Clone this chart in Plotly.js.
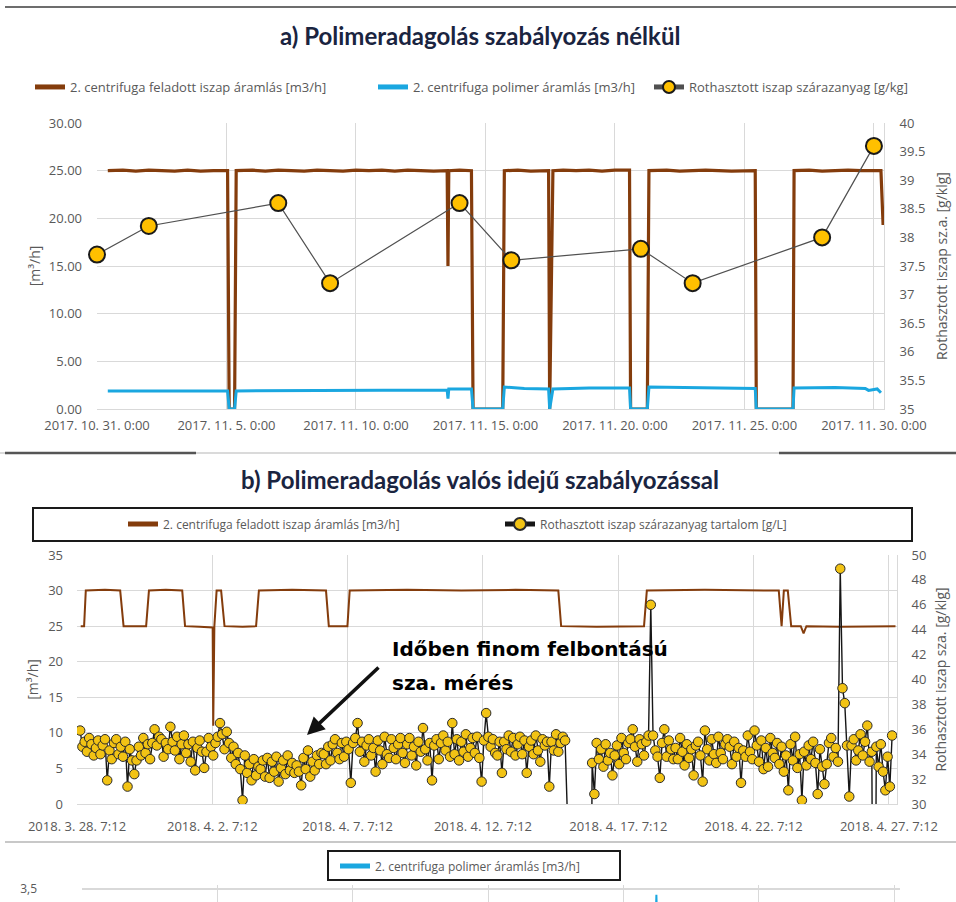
<!DOCTYPE html>
<html><head><meta charset="utf-8">
<script src="https://cdn.plot.ly/plotly-3.0.1.min.js"></script>
<style>html,body{margin:0;padding:0;background:#fff}#chart{width:956px;height:902px}</style>
</head><body><div id="chart"></div>
<script>
// ---------- texts ----------
const titleA = 'a) Polimeradagolás szabályozás nélkül';
const titleB = 'b) Polimeradagolás valós idejű szabályozással';
const nameFeed = '2. centrifuga feladott iszap áramlás [m3/h]';
const namePoly = '2. centrifuga polimer áramlás [m3/h]';
const nameSzaA = 'Rothasztott iszap szárazanyag [g/kg]';
const nameSzaB = 'Rothasztott iszap szárazanyag tartalom [g/L]';
const yTitleLeft = '[m³/h]';
const yTitleRightA = 'Rothasztott iszap sz.a. [g/klg]';
const yTitleRightB = 'Rothasztott iszap sza. [g/klg]';
const noteLine1 = 'Időben finom felbontású';
const noteLine2 = 'sza. mérés';

// ---------- panel a ----------
const tickA_vals = ['2017-10-31','2017-11-05','2017-11-10','2017-11-15','2017-11-20','2017-11-25','2017-11-30'];
const tickA_text = ['2017. 10. 31. 0:00','2017. 11. 5. 0:00','2017. 11. 10. 0:00','2017. 11. 15. 0:00','2017. 11. 20. 0:00','2017. 11. 25. 0:00','2017. 11. 30. 0:00'];

const feedA_t = ['2017-10-31 10:00','2017-11-01 00:00','2017-11-01 12:00','2017-11-02 00:00','2017-11-02 12:00','2017-11-03 00:00','2017-11-03 12:00','2017-11-04 00:00','2017-11-04 12:00','2017-11-05 01:00',
 '2017-11-05 02:30','2017-11-05 07:30','2017-11-05 09:00','2017-11-06 00:00','2017-11-06 12:00','2017-11-07 00:00','2017-11-07 12:00','2017-11-08 00:00','2017-11-08 12:00','2017-11-09 00:00',
 '2017-11-09 12:00','2017-11-10 00:00','2017-11-10 12:00','2017-11-11 00:00','2017-11-11 12:00','2017-11-12 00:00','2017-11-12 12:00','2017-11-13 00:00','2017-11-13 12:30','2017-11-13 13:15',
 '2017-11-13 14:00','2017-11-14 00:00','2017-11-14 11:00','2017-11-14 12:30','2017-11-15 16:00','2017-11-15 17:30','2017-11-16 06:00','2017-11-16 18:00','2017-11-17 10:30','2017-11-17 11:30',
 '2017-11-17 14:30','2017-11-18 00:00','2017-11-18 12:00','2017-11-19 00:00','2017-11-19 12:00','2017-11-20 00:00','2017-11-20 13:30','2017-11-20 14:30','2017-11-21 06:00','2017-11-21 07:30',
 '2017-11-22 00:00','2017-11-22 12:00','2017-11-23 00:00','2017-11-23 12:00','2017-11-24 00:00','2017-11-24 12:00','2017-11-25 10:00','2017-11-25 11:00','2017-11-26 21:00','2017-11-26 22:00',
 '2017-11-27 12:00','2017-11-28 00:00','2017-11-28 12:00','2017-11-29 00:00','2017-11-29 12:00','2017-11-30 06:30','2017-11-30 08:30'];
const feedA_v = [25.0,25.05,24.95,25.05,25.0,24.95,25.05,24.95,25.0,25.0,
 0,0,25.0,25.05,24.95,25.05,25.0,24.95,25.05,25.0,
 24.95,25.05,25.0,25.05,24.95,25.05,25.0,24.95,25.0,15.0,
 25.0,25.05,25.0,0,0,25.0,25.05,24.95,25.0,0,
 25.0,25.05,25.0,25.05,24.95,25.05,25.05,0,0,25.0,
 25.05,24.95,25.0,25.05,25.0,24.95,25.0,0,0,25.0,
 25.05,24.95,25.0,25.05,25.0,25.0,19.3];

const polyA_t = ['2017-10-31 10:00','2017-11-03 00:00','2017-11-05 01:00','2017-11-05 02:30','2017-11-05 07:30','2017-11-05 09:00','2017-11-08 00:00','2017-11-09 12:00','2017-11-13 12:30','2017-11-13 13:15',
 '2017-11-13 14:00','2017-11-14 11:00','2017-11-14 12:30','2017-11-15 16:00','2017-11-15 17:30','2017-11-16 12:00','2017-11-17 10:30','2017-11-17 11:30','2017-11-17 14:30','2017-11-19 00:00',
 '2017-11-20 13:30','2017-11-20 14:30','2017-11-21 06:00','2017-11-21 07:30','2017-11-22 12:00','2017-11-25 10:00','2017-11-25 11:00','2017-11-26 21:00','2017-11-26 22:00','2017-11-28 12:00',
 '2017-11-29 16:00','2017-11-29 19:00','2017-11-30 03:00','2017-11-30 06:30'];
const polyA_v = [1.9,1.9,1.9,0,0,1.9,1.95,2.0,2.0,1.1,
 2.1,2.1,0,0,2.3,2.15,2.1,0,2.1,2.2,
 2.2,0,0,2.3,2.25,2.15,0,0,2.2,2.25,
 2.15,1.95,2.1,1.7];

const szaA_t = ['2017-10-31','2017-11-02','2017-11-07','2017-11-09','2017-11-14','2017-11-16','2017-11-21','2017-11-23','2017-11-28','2017-11-30'];
const szaA_v = [37.7,38.2,38.6,37.2,38.6,37.6,37.8,37.2,38.0,39.6];

// ---------- panel b ----------
const tickB_vals = ['2018-03-28 07:12','2018-04-02 07:12','2018-04-07 07:12','2018-04-12 07:12','2018-04-17 07:12','2018-04-22 07:12','2018-04-27 07:12'];
const tickB_text = ['2018. 3. 28. 7:12','2018. 4. 2. 7:12','2018. 4. 7. 7:12','2018. 4. 12. 7:12','2018. 4. 17. 7:12','2018. 4. 22. 7:12','2018. 4. 27. 7:12'];

const feedB_t = ['2018-03-28 10:30','2018-03-28 13:30','2018-03-28 15:00','2018-03-29 08:00','2018-03-29 21:30','2018-03-30 00:30','2018-03-30 12:00','2018-03-30 20:30','2018-03-30 23:00','2018-03-31 14:00',
 '2018-04-01 04:30','2018-04-01 07:00','2018-04-01 20:00','2018-04-02 07:30','2018-04-02 08:00','2018-04-02 09:00','2018-04-02 11:00','2018-04-02 15:00','2018-04-02 18:00','2018-04-03 10:00',
 '2018-04-03 22:00','2018-04-04 00:30','2018-04-05 06:00','2018-04-06 12:00','2018-04-06 14:30','2018-04-07 07:00','2018-04-07 09:00','2018-04-09 12:00','2018-04-11 12:00','2018-04-13 12:00',
 '2018-04-15 02:00','2018-04-15 04:30','2018-04-16 12:00','2018-04-18 06:00','2018-04-18 08:30','2018-04-20 12:00','2018-04-23 05:30','2018-04-23 08:00','2018-04-23 10:00','2018-04-23 13:30',
 '2018-04-23 16:30','2018-04-24 01:00','2018-04-24 03:30','2018-04-24 06:00','2018-04-25 12:00','2018-04-27 13:00'];
const feedB_v = [25.0,25.0,30.0,30.1,30.0,25.0,25.0,25.0,30.0,30.1,
 30.0,25.0,24.9,24.8,11.0,25.0,30.0,30.0,25.0,24.9,
 25.0,30.0,30.1,30.0,25.0,25.0,30.0,30.1,30.0,30.1,
 30.0,25.0,24.9,25.0,30.0,30.1,30.0,25.0,30.0,30.0,
 25.0,25.0,24.0,25.0,24.9,25.0];

// dry matter, sampled every 2 hours from the start time below (0 = no reading)
const szaB_start = '2018-03-28 10:00';
const szaB_stepHours = 2;
const szaB_v = [
 35.9,34.6,35.0,34.2,35.3,34.8,33.9,34.5,35.1,34.0,34.7,35.2,
 31.9,34.3,33.6,34.9,35.2,34.0,34.6,33.8,35.0,31.4,34.4,33.5,
 32.4,33.5,34.6,33.9,35.3,34.1,34.8,33.6,34.9,36.0,34.7,35.4,
 35.2,33.8,34.9,34.4,36.2,35.0,34.3,35.4,33.6,34.8,35.5,34.1,
 34.8,33.4,35.0,32.7,34.5,35.1,34.2,32.9,34.2,35.3,34.6,33.9,
 34.9,35.4,36.5,35.6,34.4,35.8,34.9,33.7,34.6,33.2,34.1,32.8,
 30.3,33.9,32.5,33.2,31.9,33.6,32.3,33.0,32.8,33.5,32.2,33.7,
 32.1,33.4,32.6,33.8,31.8,32.9,33.5,32.4,33.9,32.7,33.3,32.5,
 33.1,32.6,31.5,33.7,32.8,34.3,32.2,33.4,32.7,33.9,33.2,34.1,
 34.0,33.2,34.6,33.5,34.8,35.2,34.1,33.6,34.9,33.8,35.0,34.4,
 31.7,34.9,35.3,36.5,34.2,35.0,33.4,34.7,35.2,33.9,34.5,32.6,
 35.1,34.3,33.2,35.4,34.0,33.7,35.2,34.5,33.6,34.8,35.3,34.1,
 33.3,34.8,35.3,33.9,34.6,33.1,35.0,34.2,36.1,34.4,33.5,34.9,
 31.9,34.7,35.2,33.6,34.9,35.5,34.3,35.0,33.8,36.5,34.0,35.2,
 33.5,35.0,34.2,35.6,33.8,34.5,35.3,34.1,35.4,33.7,31.8,35.1,
 37.3,35.4,34.6,35.2,34.1,33.9,35.0,32.5,35.0,34.4,35.5,34.2,
 35.3,33.9,34.8,35.4,34.0,35.1,32.5,34.6,35.1,34.0,35.5,34.3,
 33.4,35.2,34.7,35.0,31.4,35.0,34.3,35.6,34.2,34.9,35.4,35.1,
 0,0,0,0,0,0,0,0,0,0,0,33.3,
 30.8,34.9,33.6,34.4,33.0,34.8,33.5,34.1,32.3,33.9,34.7,33.2,
 35.3,34.1,33.6,34.9,35.2,36.0,34.6,33.4,35.2,34.8,33.9,35.0,
 35.5,46.0,35.5,34.3,33.8,32.1,34.9,36.0,33.8,35.1,34.4,33.6,
 34.5,33.6,35.3,34.2,33.1,34.8,33.7,34.4,32.3,34.7,35.0,33.9,
 31.8,35.9,34.4,33.5,35.2,34.0,33.3,35.4,34.1,33.6,34.8,35.2,
 34.6,33.2,35.0,33.8,34.5,31.7,34.3,33.8,35.5,34.2,33.6,35.9,
 34.7,33.4,35.1,32.8,34.5,33.0,35.3,34.1,33.7,34.9,33.2,34.6,
 32.6,33.9,31.1,34.8,33.5,35.4,32.9,34.0,30.3,34.2,33.1,34.7,
 33.6,35.0,33.3,30.8,34.4,33.0,31.6,33.2,34.9,35.3,33.8,34.5,
 33.4,48.9,39.3,38.1,34.7,30.6,34.7,35.2,33.5,34.3,35.6,33.9,
 35.0,36.3,33.4,34.2,0,34.6,33.0,34.8,32.6,31.1,33.8,31.4,
 35.5];

// ---------- panel c ----------
const polyC_t = ['2018-04-18 10:00','2018-04-18 12:30','2018-04-18 15:00'];
const polyC_v = [2.0,3.42,2.1];

// ---------- helpers ----------
const W = 956, H = 902;
const px = x => x / W;
const py = y => 1 - y / H;
const szaB_t = szaB_v.map((_, i) => {
  const d = new Date(szaB_start.replace(' ', 'T') + ':00Z');
  d.setUTCHours(d.getUTCHours() + i * szaB_stepHours);
  return d.toISOString().slice(0, 16).replace('T', ' ');
});

const BROWN = '#843C0C', BLUE = '#1AA7E0', GOLD = '#FFC000', GRID = '#d9d9d9', TXT = '#595959';
const FONT = 'Open Sans, Liberation Sans, sans-serif';

const traces = [
  {x: feedA_t, y: feedA_v, xaxis: 'x', yaxis: 'y', type: 'scatter', mode: 'lines', name: nameFeed,
   line: {color: BROWN, width: 3.2}, legend: 'legend'},
  {x: polyA_t, y: polyA_v, xaxis: 'x', yaxis: 'y', type: 'scatter', mode: 'lines', name: namePoly,
   line: {color: BLUE, width: 3}, legend: 'legend2'},
  {x: szaA_t, y: szaA_v, xaxis: 'x', yaxis: 'y2', type: 'scatter', mode: 'lines+markers', name: nameSzaA,
   line: {color: '#505050', width: 1.2}, cliponaxis: false,
   marker: {size: 16, color: GOLD, line: {color: '#1a1a1a', width: 2}}, legend: 'legend3'},
  {x: feedB_t, y: feedB_v, xaxis: 'x2', yaxis: 'y3', type: 'scatter', mode: 'lines', name: nameFeed,
   line: {color: BROWN, width: 2}, legend: 'legend4'},
  {x: szaB_t, y: szaB_v, xaxis: 'x2', yaxis: 'y4', type: 'scatter', mode: 'lines+markers', name: nameSzaB,
   line: {color: '#161616', width: 1.4},
   marker: {size: 9.5, color: '#F2C314', line: {color: '#2a2a2a', width: 1}}, legend: 'legend5'},
  {x: polyC_t, y: polyC_v, xaxis: 'x3', yaxis: 'y5', type: 'scatter', mode: 'lines', name: namePoly,
   line: {color: BLUE, width: 2}, legend: 'legend6'}
];

const tickF = {family: FONT, size: 13, color: TXT};
const legF = {family: FONT, size: 13, color: TXT};
const legBase = {orientation: 'h', xanchor: 'left', yanchor: 'middle', bgcolor: 'rgba(0,0,0,0)', borderwidth: 0, itemsizing: 'constant'};

const layout = {
  width: W, height: H, margin: {l: 0, r: 0, t: 0, b: 0},
  paper_bgcolor: '#fff', plot_bgcolor: 'rgba(0,0,0,0)', showlegend: true,
  font: {family: FONT, color: TXT},
  xaxis: {domain: [px(97), px(884)], anchor: 'y', type: 'date', range: ['2017-10-31 00:00', '2017-11-30 09:20'],
    tickmode: 'array', tickvals: tickA_vals, ticktext: tickA_text, tickfont: tickF, ticklabelstandoff: 4,
    showgrid: true, gridcolor: GRID, showline: true, linecolor: GRID, zeroline: false, ticks: ''},
  yaxis: {domain: [py(409), py(123)], anchor: 'x', range: [0, 30], dtick: 5, tickformat: '.2f',
    tickfont: tickF, ticklabelstandoff: 14, showgrid: true, gridcolor: GRID, zeroline: false, showline: false,
    title: {text: yTitleLeft, font: {family: FONT, size: 14, color: TXT}, standoff: 4}},
  yaxis2: {overlaying: 'y', anchor: 'x', side: 'right', range: [35, 40], dtick: 0.5,
    tickfont: tickF, ticklabelstandoff: 12, showgrid: false, zeroline: false, showline: true, linecolor: GRID,
    title: {text: yTitleRightA, font: {family: FONT, size: 14, color: TXT}, standoff: 12}},

  xaxis2: {domain: [px(77), px(897)], anchor: 'y3', type: 'date', range: ['2018-03-28 07:12', '2018-04-27 14:20'],
    tickmode: 'array', tickvals: tickB_vals, ticktext: tickB_text, tickfont: tickF, ticklabelstandoff: 10,
    showgrid: true, gridcolor: GRID, showline: true, linecolor: GRID, zeroline: false, ticks: ''},
  yaxis3: {domain: [py(804), py(555)], anchor: 'x2', range: [0, 35], dtick: 5,
    tickfont: tickF, ticklabelstandoff: 13, showgrid: true, gridcolor: GRID, zeroline: false,
    title: {text: yTitleLeft, font: {family: FONT, size: 14, color: TXT}, standoff: 6}},
  yaxis4: {overlaying: 'y3', anchor: 'x2', side: 'right', range: [30, 50], dtick: 2,
    tickfont: tickF, ticklabelstandoff: 11, showgrid: false, zeroline: false, showline: true, linecolor: GRID,
    title: {text: yTitleRightB, font: {family: FONT, size: 14, color: TXT}, standoff: 10}},

  xaxis3: {domain: [px(82), px(900)], anchor: 'y5', type: 'date', range: ['2018-03-28 07:12', '2018-04-27 12:30'],
    tickmode: 'array', tickvals: tickB_vals, showticklabels: false,
    showgrid: true, gridcolor: GRID, zeroline: false, ticks: ''},
  yaxis5: {domain: [0, py(885)], anchor: 'x3', range: [3.32, 3.555], tickmode: 'array', tickvals: [3.5], ticktext: ['3,5'],
    tickfont: {family: FONT, size: 12, color: TXT}, ticklabelstandoff: 44, showgrid: true, gridcolor: GRID, gridwidth: 1.5, zeroline: false},

  legend: Object.assign({}, legBase, {x: px(30), y: py(87), font: legF}),
  legend2: Object.assign({}, legBase, {x: px(373), y: py(87), font: legF}),
  legend3: Object.assign({}, legBase, {x: px(649), y: py(87), font: legF}),
  legend4: Object.assign({}, legBase, {x: px(123), y: py(524), font: {family: FONT, size: 12, color: TXT}}),
  legend5: Object.assign({}, legBase, {x: px(500), y: py(524), font: {family: FONT, size: 12, color: TXT}}),
  legend6: Object.assign({}, legBase, {x: px(335), y: py(866), font: {family: FONT, size: 12, color: TXT}}),

  shapes: [
    {type: 'line', xref: 'paper', yref: 'paper', x0: px(5), x1: 1, y0: py(7), y1: py(7), line: {color: '#6d6d6d', width: 2}},
    {type: 'line', xref: 'paper', yref: 'paper', x0: 0, x1: 1, y0: py(453), y1: py(453), line: {color: '#b5b5b5', width: 1}},
    {type: 'line', xref: 'paper', yref: 'paper', x0: px(5), x1: px(196), y0: py(453), y1: py(453), line: {color: '#555', width: 2.5}},
    {type: 'line', xref: 'paper', yref: 'paper', x0: px(779), x1: 1, y0: py(453), y1: py(453), line: {color: '#555', width: 2.5}},
    {type: 'rect', xref: 'paper', yref: 'paper', x0: px(33), x1: px(912), y0: py(541), y1: py(508), line: {color: '#1a1a1a', width: 2}},
    {type: 'line', xref: 'paper', yref: 'paper', x0: px(5), x1: 1, y0: py(842), y1: py(842), line: {color: '#c8c8c8', width: 2}},
    {type: 'rect', xref: 'paper', yref: 'paper', x0: px(328), x1: px(620), y0: py(880), y1: py(851), line: {color: '#1a1a1a', width: 2}}
  ],
  annotations: [
    {text: titleA, xref: 'paper', yref: 'paper', x: px(480), y: py(35), xanchor: 'center', yanchor: 'middle', showarrow: false,
     font: {family: 'Lato, Open Sans, sans-serif', size: 24, weight: 'bold', color: '#1A2440'}},
    {text: titleB, xref: 'paper', yref: 'paper', x: px(480), y: py(480), xanchor: 'center', yanchor: 'middle', showarrow: false,
     font: {family: 'Lato, Open Sans, sans-serif', size: 24, weight: 'bold', color: '#1A2440'}},
    {text: noteLine1, xref: 'paper', yref: 'paper', x: px(390), y: py(649), xanchor: 'left', yanchor: 'middle', showarrow: false,
     font: {family: 'DejaVu Sans, sans-serif', size: 20, weight: 'bold', color: '#000'}},
    {text: noteLine2, xref: 'paper', yref: 'paper', x: px(390), y: py(683), xanchor: 'left', yanchor: 'middle', showarrow: false,
     font: {family: 'DejaVu Sans, sans-serif', size: 20, weight: 'bold', color: '#000'}},
    {text: '', xref: 'paper', yref: 'paper', x: px(307), y: py(735), ax: 73, ay: -69, showarrow: true,
     arrowhead: 2, arrowsize: 1, arrowwidth: 3.5, arrowcolor: '#111'}
  ]
};

Plotly.newPlot('chart', traces, layout, {staticPlot: true});
</script></body></html>
